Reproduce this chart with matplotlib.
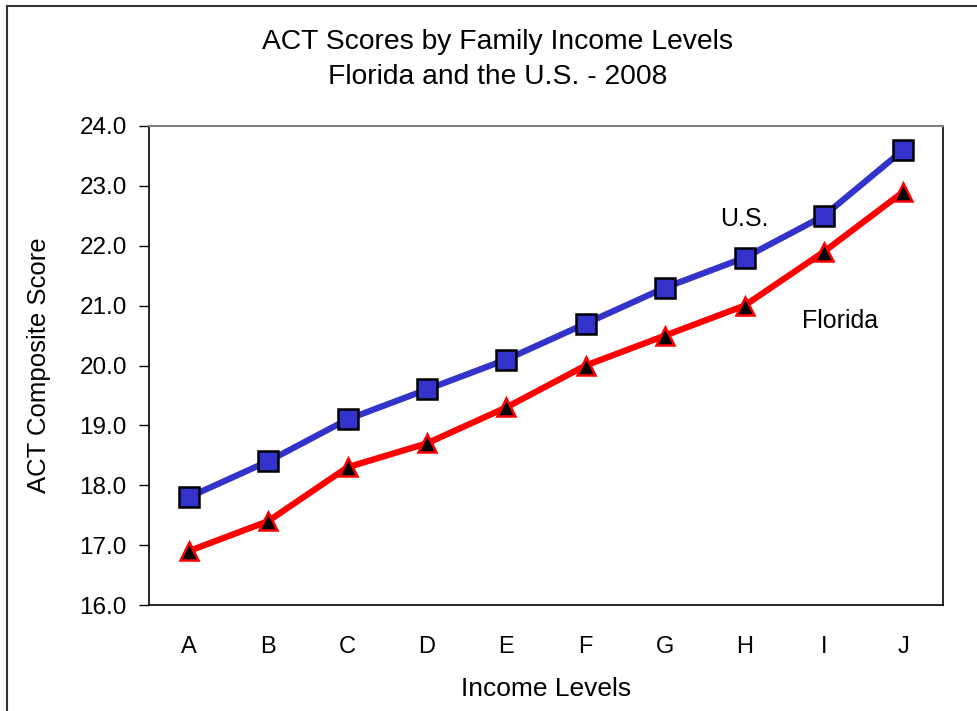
import numpy as np
import matplotlib
matplotlib.use('Agg')
import matplotlib.pyplot as plt
from matplotlib.lines import Line2D

plt.rcParams['font.family'] = ['Liberation Sans', 'DejaVu Sans']

levels = ['A', 'B', 'C', 'D', 'E', 'F', 'G', 'H', 'I', 'J']
us = [17.8, 18.4, 19.1, 19.6, 20.1, 20.7, 21.3, 21.8, 22.5, 23.6]
florida = [16.9, 17.4, 18.3, 18.7, 19.3, 20.0, 20.5, 21.0, 21.9, 22.9]

fig = plt.figure(figsize=(9.77, 7.11), dpi=100)
ax = fig.add_axes([149/977, 106/711, 794/977, 479/711])

x = np.arange(len(levels))
ax.plot(x, us, color='#3333CC', lw=4.5, marker='s', ms=14.5,
        mfc='#3333CC', mec='black', mew=1.8, zorder=3)
ax.plot(x, florida, color='#FF0000', lw=4.5, marker='^', ms=13.5,
        mfc='black', mec='#FF0000', mew=1.8, zorder=3)

ax.set_xlim(-0.5, len(levels) - 0.5)
ax.set_ylim(16, 24)
ax.set_yticks(np.arange(16, 24.1, 1))
ax.set_yticklabels(['%.1f' % v for v in np.arange(16, 24.1, 1)])
ax.set_xticks(x)
ax.set_xticklabels(levels)
ax.tick_params(axis='x', length=0, pad=22, labelsize=17)
ax.tick_params(axis='y', length=7, width=1, direction='out', pad=9, labelsize=17.5)

for s in ['left', 'right', 'bottom']:
    ax.spines[s].set_color('black')
    ax.spines[s].set_linewidth(1.2)
ax.spines['top'].set_color('#808080')
ax.spines['top'].set_linewidth(1.5)

ax.set_xlabel('Income Levels', fontsize=19, labelpad=14)
ax.set_ylabel('ACT Composite Score', fontsize=18.5, labelpad=20)

ax.text(7.0, 22.45, 'U.S.', fontsize=18, ha='center', va='center', zorder=4,
        bbox=dict(facecolor='white', edgecolor='none', pad=1))
ax.text(8.2, 20.75, 'Florida', fontsize=18, ha='center', va='center', zorder=4)

fig.text(498/977, 1 - 42/711, 'ACT Scores by Family Income Levels',
         ha='center', va='center', fontsize=20.3)
fig.text(498/977, 1 - 77/711, 'Florida and the U.S. - 2008',
         ha='center', va='center', fontsize=20.3)

# outer chart frame
fig.add_artist(Line2D([7/977, 7/977], [0, 1 - 6/711], transform=fig.transFigure,
                      color='#333333', lw=1.5))
fig.add_artist(Line2D([7/977, 1], [1 - 6/711, 1 - 6/711], transform=fig.transFigure,
                      color='#333333', lw=1.5))

fig.savefig('out.png', dpi=100)
